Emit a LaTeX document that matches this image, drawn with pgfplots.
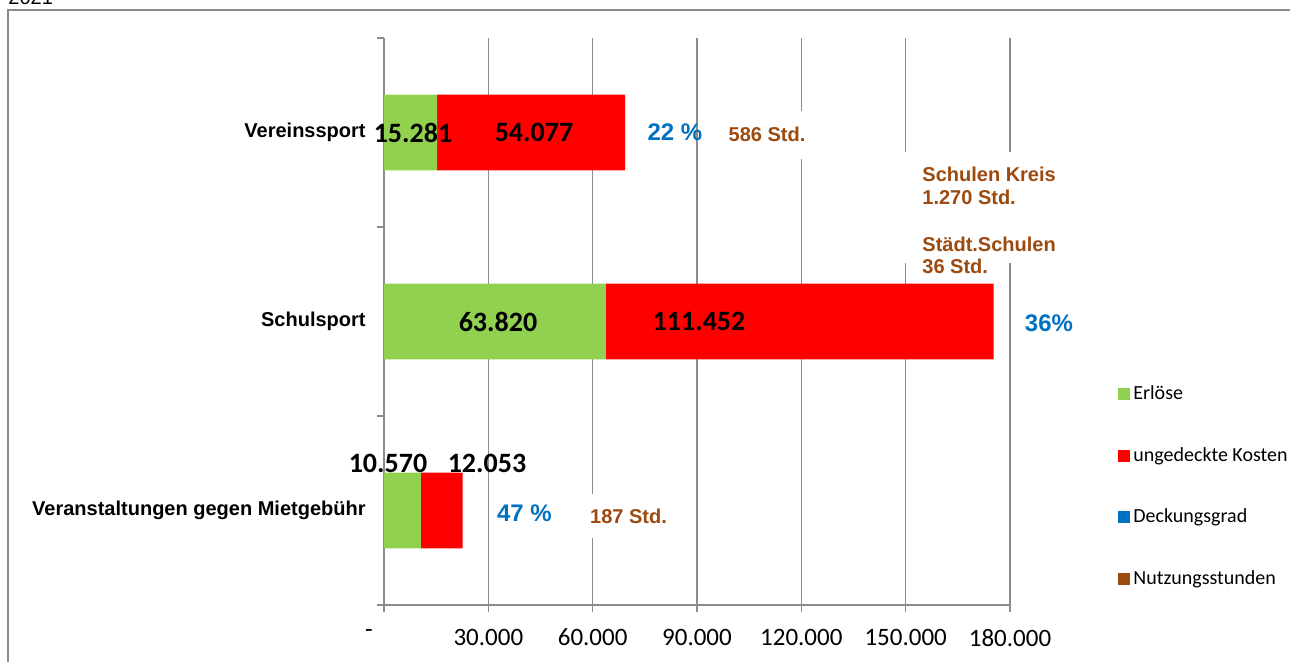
\documentclass[border=0pt]{standalone}
\usepackage{pgfplots}
\pgfplotsset{compat=1.18}
\usepackage{fontspec}
\setmainfont{Liberation Sans}
\newfontfamily\calibri{Carlito}
\definecolor{cgreen}{HTML}{92D050}
\definecolor{cred}{HTML}{FF0000}
\definecolor{cblue}{HTML}{0070C0}
\definecolor{cbrown}{HTML}{9C4A0E}
\definecolor{cgrid}{HTML}{8C8C8C}
\pgfplotsset{sqlegend/.style={legend image code/.code={\fill[##1] (0pt,-3pt) rectangle (6pt,3pt);}}}
\begin{document}
\begin{tikzpicture}
\useasboundingbox (0,0) rectangle (645pt,331pt);
\clip (0,0) rectangle (645pt,331pt);
\draw[cgrid, line width=0.8pt] (4pt,326pt) rectangle (660pt,-10pt);
\node[anchor=base west, inner sep=0pt, font=\fontsize{10}{12}\selectfont] at (4pt,328.5pt) {2021};
\begin{axis}[
  at={(192pt,28.5pt)}, anchor=south west, scale only axis,
  width=313pt, height=283.5pt,
  xbar stacked, bar width=0.4,
  xmin=0, xmax=180000, ymin=-0.5, ymax=2.5,
  axis lines*=left,
  axis line style={draw=cgrid, line width=0.75pt},
  xtick={0,30000,60000,90000,120000,150000,180000},
  xticklabels={{-\kern15pt},{30.000},{60.000},{90.000},{120.000},{150.000},{180.000}},
  x tick label style={font=\calibri\fontsize{12.5}{15}\selectfont, text=black, yshift=-5pt},
  scaled x ticks=false,
  ytick={-0.5,0.5,1.5,2.5}, yticklabels={,,,},
  extra y ticks={0,1,2},
  extra y tick labels={Veranstaltungen gegen Mietgebühr,Schulsport,Vereinssport},
  extra y tick style={major tick length=0pt, yticklabel style={font=\bfseries\fontsize{10}{12}\selectfont, inner sep=0pt, xshift=-9pt}},
  tick align=outside, major tick length=3.5pt,
  tick style={draw=cgrid, line width=0.75pt},
  xmajorgrids, grid style={draw=cgrid, line width=0.75pt},
  clip=false,
  legend style={at={(1.1725,0.393)}, anchor=north west, draw=none, fill=none,
    font=\calibri\fontsize{10}{12}\selectfont, row sep=19.4pt, inner sep=0pt,
    nodes={inner sep=1.5pt}},
  legend cell align=left,
]
\addplot[fill=cgreen, draw=none, sqlegend]
  coordinates {(10570,0) (63820,1) (15281,2)};
\addlegendentry{Erlöse}
\addplot[fill=cred, draw=none, sqlegend]
  coordinates {(12053,0) (111452,1) (54077,2)};
\addlegendentry{ungedeckte Kosten}
\addlegendimage{fill=cblue, draw=none, sqlegend}
\addlegendentry{Deckungsgrad}
\addlegendimage{fill=cbrown, draw=none, sqlegend}
\addlegendentry{Nutzungsstunden}

\coordinate (wb1) at (axis cs:148000,1.897);
\coordinate (wb2) at (axis cs:195000,1.31);
\coordinate (v1) at (axis cs:8339,2.0);
\coordinate (v2) at (axis cs:43131,2.0);
\coordinate (v3) at (axis cs:32780,1.0);
\coordinate (v4) at (axis cs:90575,1.0);
\coordinate (v5) at (axis cs:1150,0.251);
\coordinate (v6) at (axis cs:29617,0.251);
\coordinate (d1) at (axis cs:83674,2.0);
\coordinate (d2) at (axis cs:191214,0.989);
\coordinate (d3) at (axis cs:40400,-0.016);
\coordinate (n1) at (axis cs:110128,1.989);
\coordinate (n2) at (axis cs:70304,-0.029);
\coordinate (s1) at (axis cs:154700,1.743);
\coordinate (s2) at (axis cs:154700,1.621);
\coordinate (s3) at (axis cs:154700,1.368);
\coordinate (s4) at (axis cs:154700,1.252);
\end{axis}

\fill[white] (wb1) rectangle (wb2);
\begin{scope}[every node/.style={font=\calibri\bfseries\fontsize{14}{16}\selectfont, inner sep=0pt}]
\node at (v1) {15.281};
\node at (v2) {54.077};
\node at (v3) {63.820};
\node at (v4) {111.452};
\node at (v5) {10.570};
\node at (v6) {12.053};
\end{scope}
\begin{scope}[every node/.style={font=\bfseries\fontsize{12}{14}\selectfont, text=cblue, inner sep=0pt}]
\node at (d1) {22 \%};
\node at (d2) {36\%};
\node at (d3) {47 \%};
\end{scope}
\begin{scope}[every node/.style={font=\bfseries\fontsize{10}{12}\selectfont, text=cbrown}]
\node[fill=white, minimum height=24pt, inner xsep=3pt] at (n1) {586 Std.};
\node[fill=white, minimum height=22pt, inner xsep=3pt] at (n2) {187 Std.};
\node[anchor=base west, inner sep=0pt] at (s1) {Schulen Kreis};
\node[anchor=base west, inner sep=0pt] at (s2) {1.270 Std.};
\node[anchor=base west, inner sep=0pt] at (s3) {Städt.Schulen};
\node[anchor=base west, inner sep=0pt] at (s4) {36 Std.};
\end{scope}
\end{tikzpicture}
\end{document}
